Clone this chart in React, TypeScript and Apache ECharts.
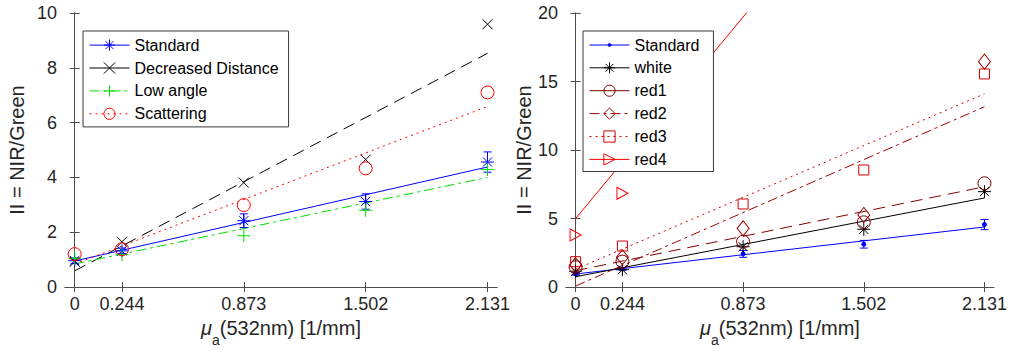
import React, { useEffect, useRef } from 'react';
import * as echarts from 'echarts';

// ---------- data ----------
const xValues = [0, 0.244, 0.873, 1.502, 2.131];
const xTickLabels = ['0', '0.244', '0.873', '1.502', '2.131'];
const xFitEnds = [0, 2.131];
const leftYTicks = [0, 2, 4, 6, 8, 10];
const rightYTicks = [0, 5, 10, 15, 20];

// left panel
const standard = [0.96, 1.32, 2.42, 3.12, 4.56];
const standardErr = [0.1, 0.1, 0.25, 0.28, 0.37];
const standardFit = [0.95, 4.38];
const decreasedDistance = [0.92, 1.65, 3.81, 4.65, 9.59];
const decreasedDistanceFit = [0.59, 8.53];
const lowAngle = [1.05, 1.18, 1.87, 2.8, 4.29];
const lowAngleFit = [0.84, 4.0];
const scattering = [1.2, 1.38, 2.99, 4.33, 7.1];
const scatteringFit = [0.84, 6.59];

// right panel
const white = [1.15, 1.26, 2.94, 4.21, 6.96];
const whiteFit = [0.75, 6.5];
const red1 = [1.45, 1.85, 3.31, 4.72, 7.57];
const red1Fit = [1.19, 7.32];
const red2 = [1.6, 2.17, 4.28, 5.26, 16.45];
const red2Fit = [0.07, 13.16];
const red3 = [1.85, 2.99, 6.06, 8.54, 15.55];
const red3Fit = [1.3, 14.1];
const red4 = [3.8, 6.84, 23, 31, 39];
const red4Fit = [5.0, 40.9];

// ---------- styling ----------
const FONT = 'Liberation Sans, Arial, Helvetica, sans-serif';
const AXIS_COLOR = '#4d4d4d';
const TEXT_COLOR = '#262626';

const SYM = {
  asterisk: 'path://M0,-1L0,1M-1,0L1,0M-0.7,-0.7L0.7,0.7M-0.7,0.7L0.7,-0.7',
  cross: 'path://M-1,-1L1,1M-1,1L1,-1',
  plus: 'path://M0,-1L0,1M-1,0L1,0',
  circle: 'path://M1,0A1,1,0,1,1,-1,0A1,1,0,1,1,1,0Z',
  diamond: 'path://M0,-1L1,0L0,1L-1,0Z',
  square: 'path://M-1,-1L1,-1L1,1L-1,1Z',
  triRight: 'path://M-1,-1L1,0L-1,1Z',
  dot: 'path://M-1,-1M1,1M0.25,0A0.25,0.25,0,1,1,-0.25,0A0.25,0.25,0,1,1,0.25,0Z',
};

const DASH = [12, 7];
const DASHDOT = [10, 4, 3, 4];
const DOT = [2, 4];

function pts(ys: number[]) {
  return xValues.map((x, i) => [x, ys[i]]);
}
function fitPts(ys: number[]) {
  return xFitEnds.map((x, i) => [x, ys[i]]);
}

function fitSeries(name: string, ys: number[], color: string, type: any, axis: number) {
  return {
    name: name + ' fit',
    type: 'line',
    xAxisIndex: axis * 2,
    yAxisIndex: axis * 2,
    data: fitPts(ys),
    symbol: 'none',
    lineStyle: { color, width: 1, type },
    clip: true,
    z: 2,
    silent: true,
  };
}

function markerSeries(name: string, ys: number[], color: string, symbol: string, size: any, axis: number, filled = false) {
  return {
    name,
    type: 'line',
    xAxisIndex: axis * 2,
    yAxisIndex: axis * 2,
    data: pts(ys),
    symbol,
    symbolSize: size,
    showSymbol: true,
    showAllSymbol: true,
    lineStyle: { opacity: 0, color },
    itemStyle: { color: filled ? color : 'none', borderColor: color, borderWidth: 1 },
    clip: true,
    z: 3,
    silent: true,
  };
}

function legendItem(name: string, color: string, type: any, filled = false) {
  return {
    name,
    lineStyle: { color, width: 1, type, opacity: 1 },
    itemStyle: { color: filled ? color : 'none', borderColor: color, borderWidth: 1, opacity: 1 },
  };
}

function errorSeries(axis: number, color: string) {
  return {
    type: 'custom',
    xAxisIndex: axis * 2,
    yAxisIndex: axis * 2,
    data: xValues.map((x, i) => [x, standard[i] - standardErr[i], standard[i] + standardErr[i]]),
    encode: { x: 0, y: [1, 2] },
    z: 3,
    silent: true,
    renderItem: (params: any, api: any) => {
      const lo = api.coord([api.value(0), api.value(1)]);
      const hi = api.coord([api.value(0), api.value(2)]);
      const w = 4;
      const style = { stroke: color, lineWidth: 1 };
      return {
        type: 'group',
        children: [
          { type: 'line', shape: { x1: lo[0], y1: lo[1], x2: hi[0], y2: hi[1] }, style },
          { type: 'line', shape: { x1: lo[0] - w, y1: lo[1], x2: lo[0] + w, y2: lo[1] }, style },
          { type: 'line', shape: { x1: hi[0] - w, y1: hi[1], x2: hi[0] + w, y2: hi[1] }, style },
        ],
      };
    },
  };
}

function axesFor(gridIndex: number, yMax: number, yInterval: number, yTicks: number[], nameGapY: number) {
  const tickStyle = { lineStyle: { color: AXIS_COLOR, width: 1 } };
  const lineStyle = { show: true, lineStyle: { color: AXIS_COLOR, width: 1 } };
  const xBottom = {
    type: 'value',
    gridIndex,
    position: 'bottom',
    min: -0.05,
    max: 2.18,
    axisLine: lineStyle,
    axisTick: { show: true, inside: true, length: 5, customValues: xValues, ...tickStyle },
    axisLabel: {
      show: true,
      customValues: xValues,
      formatter: (v: number) => {
        const i = xValues.findIndex((t) => Math.abs(t - v) < 1e-6);
        return i >= 0 ? xTickLabels[i] : '';
      },
      fontSize: 18,
      fontFamily: FONT,
      color: TEXT_COLOR,
      margin: 8,
    },
    splitLine: { show: false },
    name: '{mu|μ}{sub|a}{t|(532nm) [1/mm]}',
    nameLocation: 'middle',
    nameGap: 21,
    nameTextStyle: {
      fontSize: 20,
      fontFamily: FONT,
      color: TEXT_COLOR,
      rich: {
        mu: { fontSize: 20, fontStyle: 'italic', fontFamily: FONT, color: TEXT_COLOR },
        sub: { fontSize: 14, verticalAlign: 'bottom', lineHeight: 38, fontFamily: FONT, color: TEXT_COLOR },
        t: { fontSize: 20, fontFamily: FONT, color: TEXT_COLOR },
      },
    },
  };
  const xTop = {
    type: 'value',
    gridIndex,
    position: 'top',
    min: -0.05,
    max: 2.18,
    axisLine: lineStyle,
    axisTick: { show: true, inside: true, length: 5, customValues: xValues, ...tickStyle },
    axisLabel: { show: false },
    splitLine: { show: false },
  };
  const yLeft = {
    type: 'value',
    gridIndex,
    position: 'left',
    min: 0,
    max: yMax,
    interval: yInterval,
    axisLine: lineStyle,
    axisTick: { show: true, inside: true, length: 5, ...tickStyle },
    axisLabel: { show: true, fontSize: 18, fontFamily: FONT, color: TEXT_COLOR, margin: 8 },
    splitLine: { show: false },
    name: 'II = NIR/Green',
    nameLocation: 'middle',
    nameGap: nameGapY,
    nameTextStyle: { fontSize: 20, fontFamily: FONT, color: TEXT_COLOR },
  };
  const yRight = {
    type: 'value',
    gridIndex,
    position: 'right',
    min: 0,
    max: yMax,
    interval: yInterval,
    axisLine: lineStyle,
    axisTick: { show: true, inside: true, length: 5, ...tickStyle },
    axisLabel: { show: false },
    splitLine: { show: false },
  };
  return { x: [xBottom, xTop], y: [yLeft, yRight] };
}

const legendBase = {
  orient: 'vertical',
  itemWidth: 40,
  itemHeight: 14,
  itemGap: 6.7,
  borderColor: '#3a3a3a',
  borderWidth: 1,
  borderRadius: 0,
  backgroundColor: '#ffffff',
  selectedMode: false,
  textStyle: { fontSize: 16, fontFamily: FONT, color: '#000000' },
  z: 10,
};

export default function App() {
  const ref = useRef<HTMLDivElement>(null);
  useEffect(() => {
    if (!ref.current) return;
    const chart = echarts.init(ref.current, null, { renderer: 'svg' });
    const a0 = axesFor(0, 10, 2, leftYTicks, 38);
    const a1 = axesFor(1, 20, 5, rightYTicks, 31);

    const BLUE = '#0000ff';
    const BLACK = '#000000';
    const GREEN = '#00e000';
    const RED = '#ff0000';
    const R1 = '#800000';
    const R2 = '#a00000';
    const R3 = '#d60000';
    const R4 = '#ff0000';

    const option: any = {
      animation: false,
      grid: [
        { left: 65, top: 13, width: 432, height: 274, containLabel: false },
        { left: 566, top: 13, width: 431, height: 274, containLabel: false },
      ],
      xAxis: [...a0.x, ...a1.x],
      yAxis: [...a0.y, ...a1.y],
      legend: [
        {
          ...legendBase,
          left: 83,
          top: 31,
          padding: [6, 10, 5, 6],
          data: [
            legendItem('Standard', BLUE, 'solid'),
            legendItem('Decreased Distance', BLACK, 'solid'),
            legendItem('Low angle', GREEN, DASHDOT),
            legendItem('Scattering', RED, DOT),
          ],
        },
        {
          ...legendBase,
          left: 583,
          top: 31,
          padding: [6, 14, 4, 6],
          formatter: (n: string) => n.replace('_R', ''),
          data: [
            legendItem('Standard_R', BLUE, 'solid', true),
            legendItem('white', BLACK, 'solid'),
            legendItem('red1', R1, 'solid'),
            legendItem('red2', R2, DASHDOT),
            legendItem('red3', R3, DOT),
            legendItem('red4', R4, 'solid'),
          ],
        },
      ],
      series: [
        // left fits
        fitSeries('Standard', standardFit, BLUE, 'solid', 0),
        fitSeries('Decreased Distance', decreasedDistanceFit, BLACK, DASH, 0),
        fitSeries('Low angle', lowAngleFit, GREEN, DASHDOT, 0),
        fitSeries('Scattering', scatteringFit, RED, DOT, 0),
        // left markers
        errorSeries(0, BLUE),
        markerSeries('Standard', standard, BLUE, SYM.asterisk, 13, 0),
        markerSeries('Decreased Distance', decreasedDistance, BLACK, SYM.cross, 10, 0),
        markerSeries('Low angle', lowAngle, GREEN, SYM.plus, 13, 0),
        markerSeries('Scattering', scattering, RED, SYM.circle, 13, 0),
        // right fits
        fitSeries('Standard_R', standardFit, BLUE, 'solid', 1),
        fitSeries('white', whiteFit, BLACK, 'solid', 1),
        fitSeries('red1', red1Fit, R1, DASH, 1),
        fitSeries('red2', red2Fit, R2, DASHDOT, 1),
        fitSeries('red3', red3Fit, R3, DOT, 1),
        fitSeries('red4', red4Fit, R4, 'solid', 1),
        // right markers
        errorSeries(1, BLUE),
        markerSeries('Standard_R', standard, BLUE, SYM.dot, 16, 1, true),
        markerSeries('white', white, BLACK, SYM.asterisk, 13, 1),
        markerSeries('red1', red1, R1, SYM.circle, 13, 1),
        markerSeries('red2', red2, R2, SYM.diamond, [12, 15], 1),
        markerSeries('red3', red3, R3, SYM.square, 10, 1),
        markerSeries('red4', red4, R4, SYM.triRight, [11, 12], 1),
      ],
    };
    chart.setOption(option);
    return () => chart.dispose();
  }, []);
  return (
    <div
      ref={ref}
      style={{ position: 'absolute', left: 0, top: 0, width: 1010, height: 356, background: '#ffffff' }}
    />
  );
}
